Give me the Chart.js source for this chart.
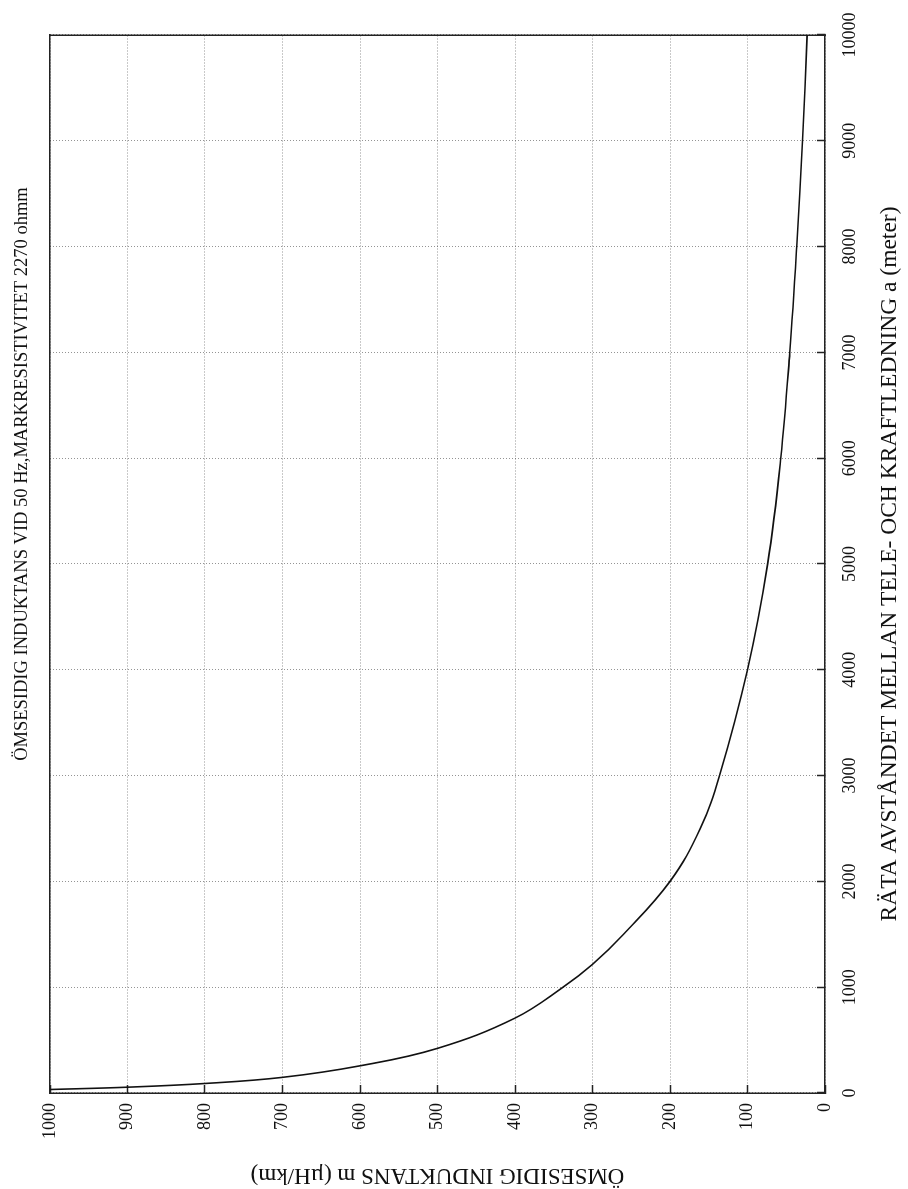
<!DOCTYPE html>
<html>
<head>
<meta charset="utf-8">
<script src="https://cdn.jsdelivr.net/npm/chart.js@4.4.1/dist/chart.umd.min.js"></script>
<style>
  html, body { margin: 0; padding: 0; background: #fff; }
  body { width: 908px; height: 1189px; overflow: hidden; position: relative; }
  /* the scanned page is turned a quarter turn, so the chart is drawn upright and then rotated */
  #wrap {
    position: absolute; left: 0; top: 0;
    width: 1189px; height: 908px;
    transform-origin: 0 0;
    transform: translateY(1189px) rotate(-90deg);
  }
</style>
</head>
<body>
<div id="wrap"><canvas id="myChart" width="1189" height="908"></canvas></div>
<script>
// distance a (meter) and mutual inductance m (uH/km)
const avstand = [33, 55, 90, 148, 257, 422, 708, 1000, 1216, 1500, 2000, 2500, 3000, 4000, 5000, 6000, 7000, 8000, 9000, 10000];
const induktans = [1000, 900, 800, 700, 600, 500, 400, 338, 300, 260, 200, 161, 136, 100, 74, 57, 45.5, 36.5, 29, 23];

const xTicks = [0, 1000, 2000, 3000, 4000, 5000, 6000, 7000, 8000, 9000, 10000];
const yTicks = [0, 100, 200, 300, 400, 500, 600, 700, 800, 900, 1000];

const titel = 'ÖMSESIDIG INDUKTANS VID 50 Hz,MARKRESISTIVITET 2270 ohmm';
const xTitel = 'RÄTA AVSTÅNDET MELLAN TELE- OCH KRAFTLEDNING a (meter)';
const yTitel = 'ÖMSESIDIG INDUKTANS m (µH/km)';

let punkter = new Array();
for (let i = 0; i < avstand.length; i++) {
    punkter.push({x: avstand[i], y: induktans[i]});
}

Chart.defaults.font.family = '"Liberation Serif", "Times New Roman", serif';
Chart.defaults.color = '#111';

// title sits off-centre on the page, so it is drawn by hand
const titelPlugin = {
    id: 'titel',
    afterDraw(chart) {
        const ctx = chart.ctx;
        const area = chart.chartArea;
        ctx.save();
        ctx.font = '18.5px "Liberation Serif", serif';
        ctx.fillStyle = '#111';
        ctx.textAlign = 'center';
        ctx.textBaseline = 'middle';
        ctx.fillText(titel, area.left + (area.right - area.left) * 0.585, 22);
        ctx.restore();
    }
};

const gridDots = {
    color: 'rgba(60,60,60,0.55)',
    lineWidth: 1,
    tickLength: -8,
    tickColor: '#222',
    tickWidth: 1.5
};

// fixed box sizes, and no extra room for overhanging labels
function fastStorlek(prop, v) {
    return s => {
        s[prop] = v;
        s.paddingLeft = 0; s.paddingRight = 0; s.paddingTop = 0; s.paddingBottom = 0;
    };
}

const ctx1 = document.querySelector('#myChart').getContext('2d');
let myChart = new Chart(ctx1, {
    type: 'line',
    data: {
        datasets: [{
            data: punkter,
            borderColor: '#111',
            borderWidth: 1.6,
            pointRadius: 0,
            fill: false,
            tension: 0.4
        }]
    },
    options: {
        responsive: false,
        animation: false,
        layout: { padding: 0 },
        plugins: { legend: { display: false }, tooltip: { enabled: false } },
        scales: {
            x: {
                type: 'linear',
                position: 'bottom',
                min: 0, max: 10000,
                afterBuildTicks: s => { s.ticks = xTicks.map(v => ({value: v})); },
                afterFit: fastStorlek('height', 83),
                ticks: { font: { size: 18 }, padding: 22, maxRotation: 0, autoSkip: false, callback: v => String(v) },
                grid: gridDots,
                border: { color: '#222', width: 1.5, dash: [1, 2] },
                title: { display: true, text: xTitel, font: { size: 23.5 }, padding: { top: 0, bottom: 4 } }
            },
            y: {
                type: 'linear',
                position: 'left',
                min: 0, max: 1000,
                afterBuildTicks: s => { s.ticks = yTicks.map(v => ({value: v})); },
                afterFit: fastStorlek('width', 96),
                ticks: { font: { size: 18 }, padding: 18, autoSkip: false, callback: v => String(v) },
                grid: gridDots,
                border: { color: '#222', width: 1.5, dash: [1, 2] },
                title: { display: true, text: yTitel, font: { size: 23 }, padding: { top: 0, bottom: 0 } }
            },
            xTop: {
                type: 'linear',
                position: 'top',
                ticks: { display: false },
                grid: { display: false, drawTicks: false },
                border: { color: '#222', width: 1.5 },
                afterFit: fastStorlek('height', 50)
            },
            yRight: {
                type: 'linear',
                position: 'right',
                ticks: { display: false },
                grid: { display: false, drawTicks: false },
                border: { color: '#222', width: 1.5 },
                afterFit: fastStorlek('width', 35)
            }
        }
    },
    plugins: [titelPlugin]
});
</script>
</body>
</html>
